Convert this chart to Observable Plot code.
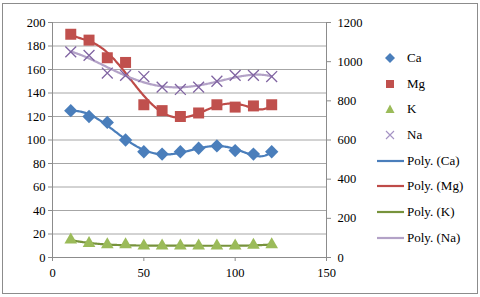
<!DOCTYPE html>
<html><head><meta charset="utf-8">
<script src="https://cdn.jsdelivr.net/npm/d3@7"></script>
<script src="https://cdn.jsdelivr.net/npm/@observablehq/plot@0.6"></script>
<style>
body{margin:0;background:#fff;}
#wrap{position:relative;width:480px;height:297px;overflow:hidden;background:#fff;}
#frame{position:absolute;left:2px;top:3px;width:476px;height:291px;border:1.5px solid #8c8c8c;box-sizing:border-box;pointer-events:none;}
#chart{position:absolute;left:0;top:0;}
#legend{position:absolute;left:374px;top:45px;font-family:'Liberation Serif',serif;font-size:13px;color:#000;}
.row{height:25.7px;display:flex;align-items:center;}
.row svg{width:32px;height:14px;flex:none;margin-right:1px;}
#chart svg text{font-family:'Liberation Serif',serif;}
</style></head><body>
<div id="wrap"><div id="chart"></div><div id="legend"></div><div id="frame"></div></div>
<script>
// ---- data (left-axis units) ----
const depth = [10, 20, 30, 40, 50, 60, 70, 80, 90, 100, 110, 120];
const Ca = [125, 120, 115, 100, 90, 88, 90, 93, 95, 91, 88, 90];
const Mg = [190, 185, 170, 166, 130, 125, 120, 123, 130, 128, 129, 130];
const K  = [15, 12, 11, 11, 10, 10, 10, 10, 10, 10, 10.5, 11];
const Na = [175, 172, 157, 155, 154, 145, 143, 145, 150, 155, 155, 154];
const seriesNames = ["Ca", "Mg", "K", "Na"];
const xTicks = [0, 50, 100, 150];
const yTicks = [0, 20, 40, 60, 80, 100, 120, 140, 160, 180, 200];
const rightTicks = [0, 200, 400, 600, 800, 1000, 1200];

const markerColor = {Ca: "#4a7ebb", Mg: "#c0504d", K: "#9bbb59", Na: "#8064a2"};
const lineColor = {Ca: "#4a7ebb", Mg: "#be4b48", K: "#77933c", Na: "#b3a2c7"};
const symbolOf = {Ca: "diamond2", Mg: "square", K: "triangle", Na: "times"};
const polyOrder = {Ca: 6, Mg: 6, K: 4, Na: 4};
const values = {Ca, Mg, K, Na};

// polynomial least squares trendline (Excel "Poly.")
function polyfit(xs, ys, deg) {
  const n = deg + 1, c = 65, s = 55;
  const A = Array.from({length: n}, () => new Array(n + 1).fill(0));
  xs.forEach((x, k) => {
    const t = (x - c) / s;
    const pw = [1];
    for (let i = 1; i < 2 * n; i++) pw.push(pw[i - 1] * t);
    for (let i = 0; i < n; i++) {
      for (let j = 0; j < n; j++) A[i][j] += pw[i + j];
      A[i][n] += pw[i] * ys[k];
    }
  });
  for (let i = 0; i < n; i++) {
    let p = i;
    for (let r = i + 1; r < n; r++) if (Math.abs(A[r][i]) > Math.abs(A[p][i])) p = r;
    [A[i], A[p]] = [A[p], A[i]];
    for (let r = 0; r < n; r++) {
      if (r === i) continue;
      const f = A[r][i] / A[i][i];
      for (let j = i; j <= n; j++) A[r][j] -= f * A[i][j];
    }
  }
  const coef = A.map((row, i) => row[n] / row[i]);
  return x => { const t = (x - c) / s; let v = 0; for (let i = n - 1; i >= 0; i--) v = v * t + coef[i]; return v; };
}

const points = [];
const trend = [];
for (const name of seriesNames) {
  depth.forEach((x, i) => points.push({name, x, y: values[name][i]}));
  const f = polyfit(depth, values[name], polyOrder[name]);
  for (const x of d3.range(depth[0], depth[depth.length - 1] + 0.001, 0.5)) trend.push({name, x, y: f(x)});
}

const font = "'Liberation Serif',serif";
const marks = [
  Plot.ruleY(yTicks.filter(d => d > 0), {stroke: "#a6a6a6", strokeWidth: 1}),
  Plot.ruleX([0], {stroke: "#8c8c8c"}),
  Plot.ruleX([150], {stroke: "#8c8c8c"}),
  Plot.ruleY([0], {stroke: "#8c8c8c"}),
  Plot.axisX(xTicks, {tickSize: 4, tickPadding: 7, stroke: "#8c8c8c", label: null}),
  Plot.axisY(yTicks, {anchor: "left", tickSize: 4, tickPadding: 3, stroke: "#8c8c8c", label: null}),
  Plot.axisY(rightTicks, {anchor: "right", y: d => d / 6, text: d => String(d), tickSize: 4, tickPadding: 7, stroke: "#8c8c8c", label: null})
];
for (const name of seriesNames) {
  marks.push(Plot.line(trend.filter(d => d.name === name), {x: "x", y: "y", stroke: lineColor[name], strokeWidth: 2.2}));
}
const sizes = {Ca: 6.0, Mg: 6.2, K: 4.7, Na: 5.0};
for (const name of seriesNames) {
  const data = points.filter(d => d.name === name);
  if (name === "Na") {
    marks.push(Plot.dot(data, {x: "x", y: "y", symbol: symbolOf[name], r: sizes[name], stroke: markerColor[name], strokeWidth: 1.3}));
  } else {
    marks.push(Plot.dot(data, {x: "x", y: "y", symbol: symbolOf[name], r: sizes[name], fill: markerColor[name], stroke: "none"}));
  }
}

const chart = Plot.plot({
  width: 480, height: 297,
  marginLeft: 52, marginRight: 154, marginTop: 22, marginBottom: 40,
  style: {fontFamily: font, fontSize: "12.5px", color: "#000", background: "transparent"},
  x: {domain: [0, 150]},
  y: {domain: [0, 200]},
  marks
});
document.getElementById("chart").appendChild(chart);

// legend
const legend = document.getElementById("legend");
const symPath = {
  Ca: '<path d="M16,2 L21,7 L16,12 L11,7 Z" fill="#4a7ebb"/>',
  Mg: '<rect x="12" y="3" width="8" height="8" fill="#c0504d"/>',
  K: '<path d="M16,2.5 L20.5,11 L11.5,11 Z" fill="#9bbb59"/>',
  Na: '<path d="M12,3 L20,11 M20,3 L12,11" stroke="#a593c4" stroke-width="1.1" fill="none"/>'
};
for (const name of seriesNames) {
  legend.insertAdjacentHTML("beforeend", `<div class="row"><svg viewBox="0 0 32 14">${symPath[name]}</svg><span>${name}</span></div>`);
}
for (const name of seriesNames) {
  legend.insertAdjacentHTML("beforeend", `<div class="row"><svg viewBox="0 0 32 14"><line x1="3" x2="30" y1="7" y2="7" stroke="${lineColor[name]}" stroke-width="2.2"/></svg><span>Poly. (${name})</span></div>`);
}
</script>
</body></html>
